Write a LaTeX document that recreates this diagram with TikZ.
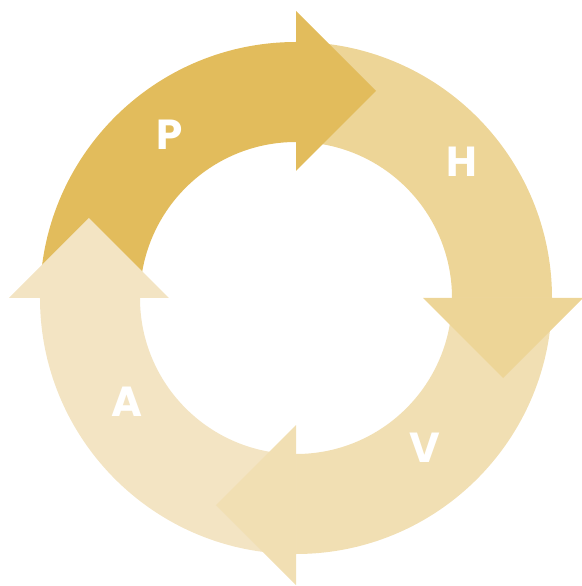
\documentclass[tikz,border=0pt]{standalone}
\usepackage{fontspec}
\setmainfont{Poppins}
\usepackage{tikz}

\definecolor{plancol}{HTML}{E2BC5C}
\definecolor{hacercol}{HTML}{EDD597}
\definecolor{verifcol}{HTML}{F1DFB3}
\definecolor{actcol}{HTML}{F3E4C3}

\begin{document}
\begin{tikzpicture}[x=1pt, y=1pt,
  letter/.style={text=white, font=\fontsize{42}{42}\selectfont\bfseries, inner sep=0pt}]
  \useasboundingbox (-296,-288) rectangle (285,298);

  % Ring segments
  \fill[plancol] (180:256) arc (180:90:256) -- (90:156) arc (90:180:156) -- cycle;
  \fill[hacercol] (90:256) arc (90:0:256) -- (0:156) arc (0:90:156) -- cycle;
  \fill[verifcol] (0:256) arc (0:-90:256) -- (-90:156) arc (-90:0:156) -- cycle;
  \fill[actcol] (-90:256) arc (-90:-180:256) -- (-180:156) arc (-180:-90:156) -- cycle;

  % Arrow heads
  \fill[plancol] (0,127) -- (0,287) -- (80,207) -- cycle;
  \fill[hacercol] (127,0) -- (287,0) -- (207,-80) -- cycle;
  \fill[verifcol] (0,-127) -- (0,-287) -- (-80,-207) -- cycle;
  \fill[actcol] (-127,0) -- (-287,0) -- (-207,80) -- cycle;

  % Labels
  \node[letter] (p) at (-126,163) {P};
  \node[letter] (h) at (166,136) {H};
  \node[letter] (v) at (129,-150) {V};
  \node[letter] (a) at (-169,-104) {A};
\end{tikzpicture}
\end{document}
